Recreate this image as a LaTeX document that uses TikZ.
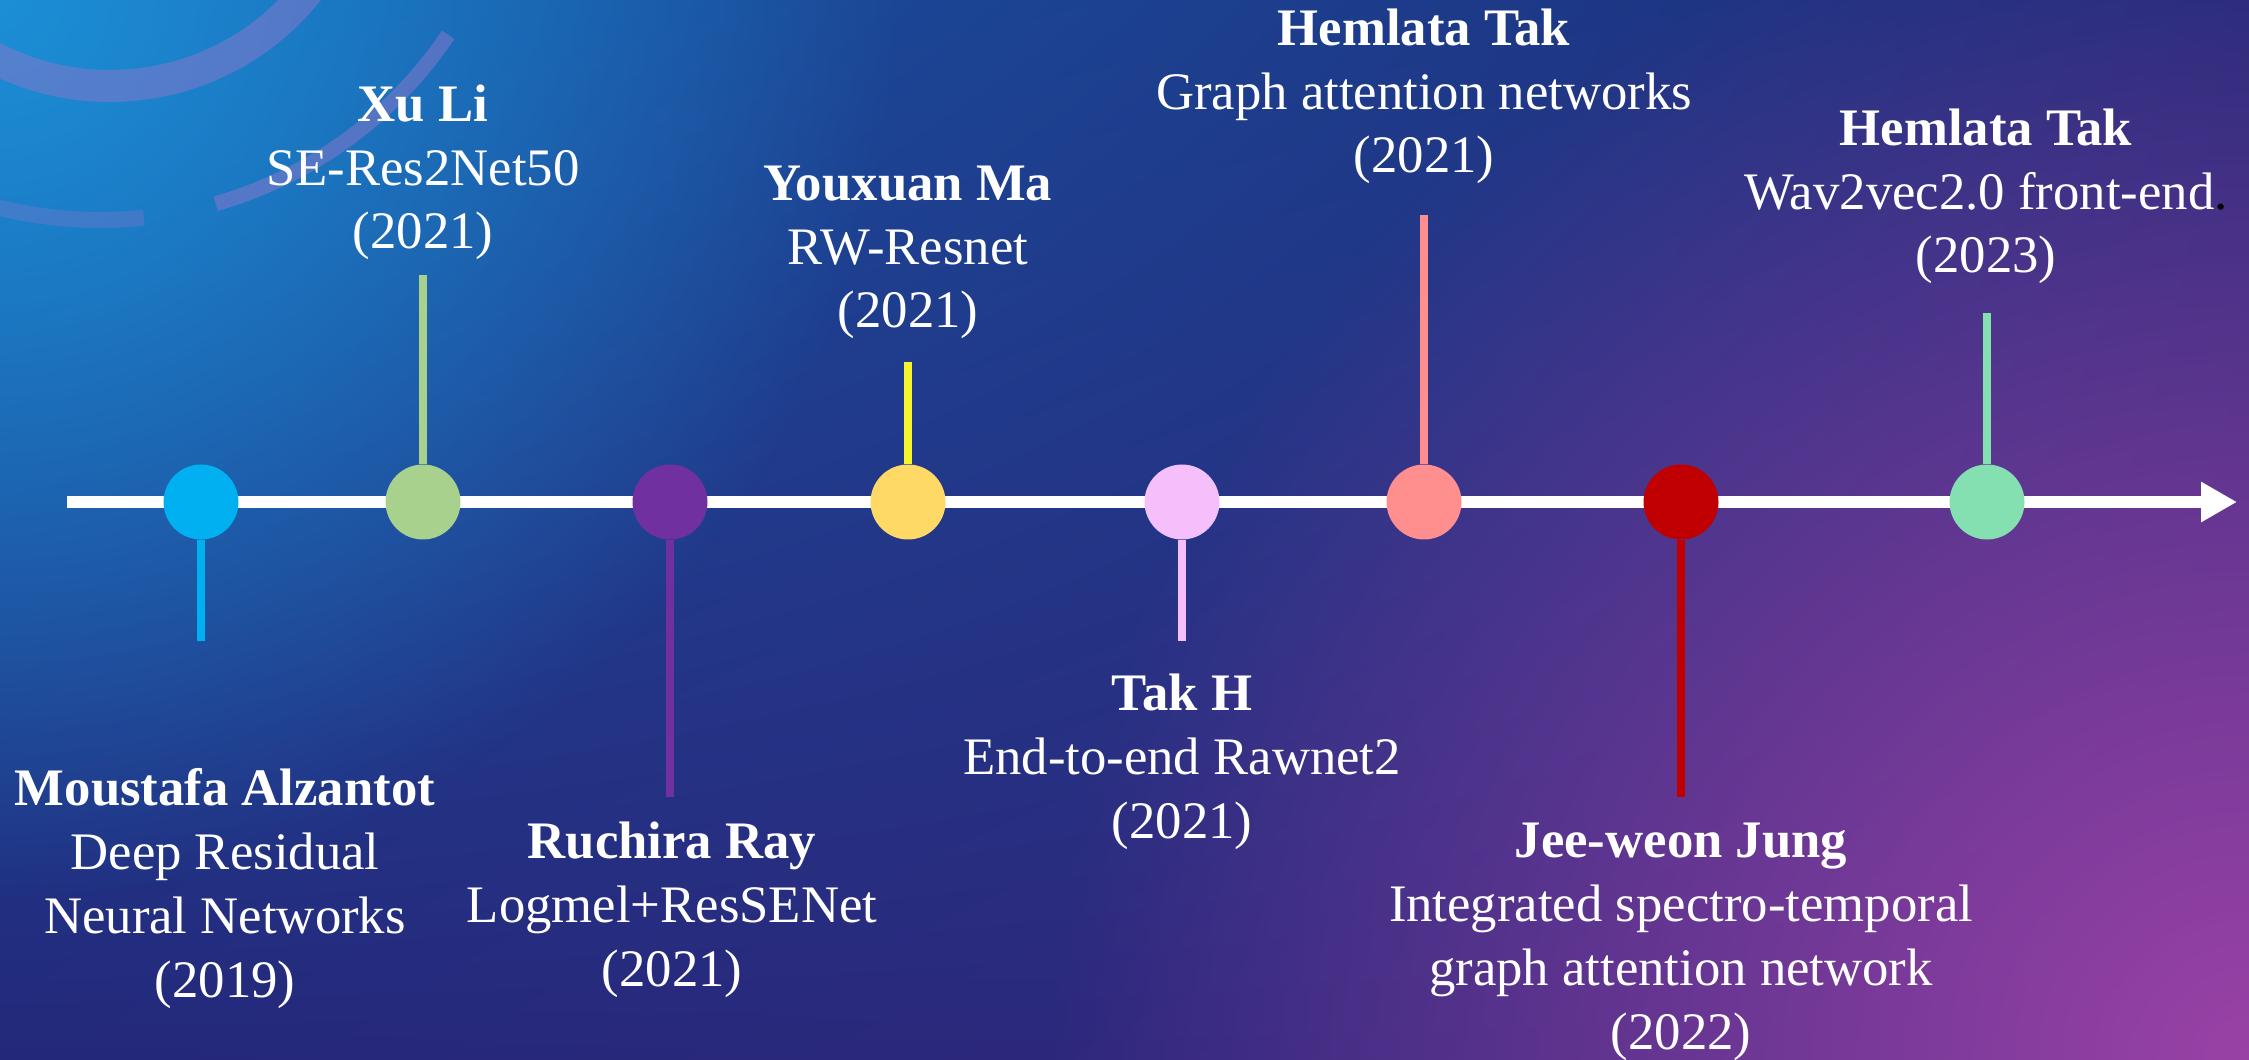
\documentclass[tikz,border=0pt]{standalone}
\usepackage{fontspec}
\setmainfont{Liberation Serif}
\usetikzlibrary{arrows.meta, fadings, shadings, positioning}

\definecolor{bgTL}{HTML}{1858A8}
\definecolor{bgTR}{HTML}{1F2A78}
\definecolor{bgBL}{HTML}{23287A}
\definecolor{bgBR}{HTML}{35287E}
\definecolor{glowBlue}{HTML}{1C8FD6}
\definecolor{glowPurple}{HTML}{9A42A6}
\definecolor{ringc}{HTML}{8478CC}
\definecolor{dotA}{HTML}{00B0F0}
\definecolor{dotB}{HTML}{A9D18E}
\definecolor{dotC}{HTML}{7030A0}
\definecolor{dotD}{HTML}{FFD966}
\definecolor{stemD}{HTML}{F5F52E}
\definecolor{dotE}{HTML}{F5BFFC}
\definecolor{dotF}{HTML}{FF8F8F}
\definecolor{dotG}{HTML}{C00000}
\definecolor{dotH}{HTML}{84E0B0}

\tikzfading[name=glowfade, inner color=transparent!0, outer color=transparent!100]

\tikzset{
  dot/.style={circle, fill=#1, minimum size=0.75cm, inner sep=0pt},
  stem/.style={draw=#1, line width=0.08cm},
  entry/.style={text=white, align=center, anchor=base, inner sep=0pt,
    font=\fontsize{15}{18.2}\selectfont},
  axis/.style={white, line width=0.12cm, -{Triangle[length=0.36cm,width=0.38cm]}},
  ring/.style={draw=ringc, line width=#1, opacity=0.55}
}

\begin{document}
\begin{tikzpicture}

%Background
\useasboundingbox (0,0) rectangle (22.49,10.59);
\clip (0,0) rectangle (22.49,10.59);
\shade[upper left=bgTL, upper right=bgTR, lower left=bgBL, lower right=bgBR] (0,0) rectangle (22.49,10.59);
\fill[glowBlue, path fading=glowfade] (0,10.59) circle (9);
\fill[glowPurple, path fading=glowfade] (22.49,0) circle (12);

%Rings
\draw[ring=0.32cm] (1.10,12.26) ++(240:2.53) arc (240:322:2.53);
\draw[ring=0.16cm, opacity=0.35] (1.00,12.59) ++(256:4.20) arc (256:276:4.20);
\draw[ring=0.15cm] (1.00,12.59) ++(286:4.20) arc (286:326:4.20);

%Timeline
\coordinate (start) at (0.67,5.57);
\coordinate (tip) at (22.37,5.57);
\draw[axis] (start) -- (tip);

%Dots & Stems
\foreach \i/\x/\y/\fc/\sc in {1/2.01/4.18/dotA/dotA, 2/4.23/7.84/dotB/dotB,
    3/6.70/2.62/dotC/dotC, 4/9.08/6.97/dotD/stemD, 5/11.82/4.18/dotE/dotE,
    6/14.24/8.44/dotF/dotF, 7/16.81/2.62/dotG/dotG, 8/19.87/7.46/dotH/dotH}
{
  \node[dot=\fc] (d\i) at (\x,5.57) {};
  \coordinate (e\i) at (\x,\y);
  \draw[stem=\sc] (d\i) -- (e\i);
}

%Labels (anchored at the baseline of the last line)
\node[entry] (t1) at (2.25,0.62) {\textbf{Moustafa Alzantot}\\Deep Residual\\Neural Networks\\(2019)};
\node[entry] (t2) at (4.23,8.10) {\textbf{Xu Li}\\SE-Res2Net50\\(2021)};
\node[entry] (t3) at (6.72,0.73) {\textbf{Ruchira Ray}\\Logmel+ResSENet\\(2021)};
\node[entry] (t4) at (9.08,7.31) {\textbf{Youxuan Ma}\\RW-Resnet\\(2021)};
\node[entry] (t5) at (11.82,2.21) {\textbf{Tak H}\\End-to-end Rawnet2\\(2021)};
\node[entry] (t6) at (14.24,8.86) {\textbf{Hemlata Tak}\\Graph attention networks\\(2021)};
\node[entry] (t7) at (16.81,0.10) {\textbf{Jee-weon Jung}\\Integrated spectro-temporal\\graph attention network\\(2022)};
\node[entry] (t8) at (19.86,7.86) {\textbf{Hemlata Tak}\\Wav2vec2.0 front-end{\color{black}.}\\(2023)};

\end{tikzpicture}
\end{document}
